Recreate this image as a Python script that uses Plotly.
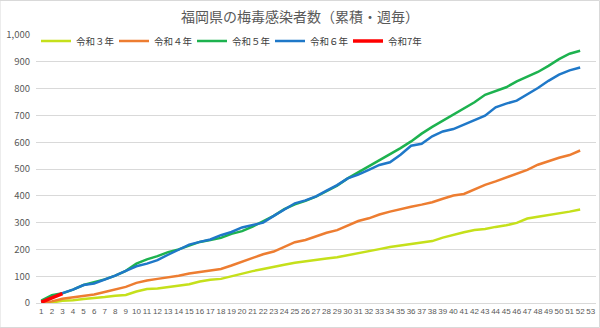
import plotly.graph_objects as go

weeks = list(range(1, 54))

r3 = [0, 2, 8, 10, 15, 18, 22, 27, 30, 43, 52, 54, 60, 65, 70, 80, 87, 90, 100, 111,
      119, 127, 136, 143, 150, 156, 160, 166, 171, 178, 185, 193, 201, 209, 215, 219,
      225, 231, 244, 255, 264, 272, 276, 284, 290, 299, 315, 322, 328, 333, 341, 349]
r4 = [0, 6, 16, 22, 27, 32, 41, 51, 60, 75, 84, 90, 95, 102, 110, 115, 120, 127, 140,
      155, 168, 182, 192, 211, 227, 235, 248, 262, 272, 290, 306, 316, 330, 341, 351,
      359, 367, 376, 389, 401, 407, 424, 441, 454, 469, 484, 497, 516, 530, 542, 552, 569]
r5 = [9, 29, 36, 50, 67, 78, 88, 102, 120, 147, 163, 175, 190, 200, 213, 228, 235, 243,
      258, 268, 285, 305, 325, 350, 368, 381, 397, 417, 438, 465, 487, 510, 532, 555,
      578, 603, 632, 657, 680, 706, 726, 749, 777, 790, 805, 827, 846, 862, 885, 910,
      930, 941]
r6 = [3, 20, 37, 50, 67, 73, 88, 102, 120, 137, 147, 160, 180, 200, 218, 228, 237, 253,
      265, 282, 292, 300, 325, 350, 372, 383, 398, 419, 440, 465, 479, 497, 515, 525,
      553, 587, 594, 622, 640, 649, 665, 684, 699, 730, 744, 755, 777, 802, 829, 852,
      868, 879]
r7 = [3, 19, 35]

series = [
    ("令和３年", r3, "#C5E01B", 2.5),
    ("令和４年", r4, "#ED7D31", 2.5),
    ("令和５年", r5, "#1DB24F", 2.5),
    ("令和６年", r6, "#1F78C8", 2.5),
    ("令和7年", r7, "#FF0000", 3.5),
]

fig = go.Figure()
for name, vals, color, w in series:
    fig.add_trace(go.Scatter(
        x=weeks[:len(vals)], y=vals, mode="lines", name=name,
        line=dict(color=color, width=w),
    ))

font_family = "Noto Sans CJK JP, Noto Sans, sans-serif"
fig.update_layout(
    width=600, height=328,
    margin=dict(l=36, r=4, t=35, b=25),
    paper_bgcolor="white", plot_bgcolor="white",
    font=dict(family=font_family, color="#595959", size=10),
    title=dict(text="福岡県の梅毒感染者数（累積・週毎）", x=0.5, xanchor="center",
               y=1 - 17 / 328, yanchor="middle",
               font=dict(size=14, color="#595959", family=font_family)),
    legend=dict(orientation="h", x=0.0, xanchor="left", y=(303 - 41) / 268,
                yanchor="middle", font=dict(size=9.5, color="#404040"),
                bgcolor="rgba(0,0,0,0)", itemwidth=30, tracegroupgap=0,
                entrywidth=33, entrywidthmode="pixels"),
    showlegend=True,
)
fig.update_xaxes(
    range=[0.5, 53.5], tickmode="array", tickvals=weeks,
    ticktext=[str(w) for w in weeks], tickangle=0,
    showgrid=False, zeroline=False, showline=True, linecolor="#d9d9d9",
    tickfont=dict(size=8, color="#595959", family="Liberation Sans, Arial, sans-serif"),
    ticks="",
)
fig.update_yaxes(
    range=[0, 1000], dtick=100, tickformat=",d",
    showgrid=True, gridcolor="#d9d9d9", gridwidth=1, zeroline=False,
    tickfont=dict(size=9.5, color="#595959"), ticks="", ticklabelstandoff=5,
)
fig.add_shape(type="rect", xref="paper", yref="paper",
              x0=-36 / 560, x1=1 + 3.5 / 560, y0=-24.5 / 268, y1=1 + 34.5 / 268,
              line=dict(color="#d9d9d9", width=1), layer="below")

fig.write_html("out.html")
